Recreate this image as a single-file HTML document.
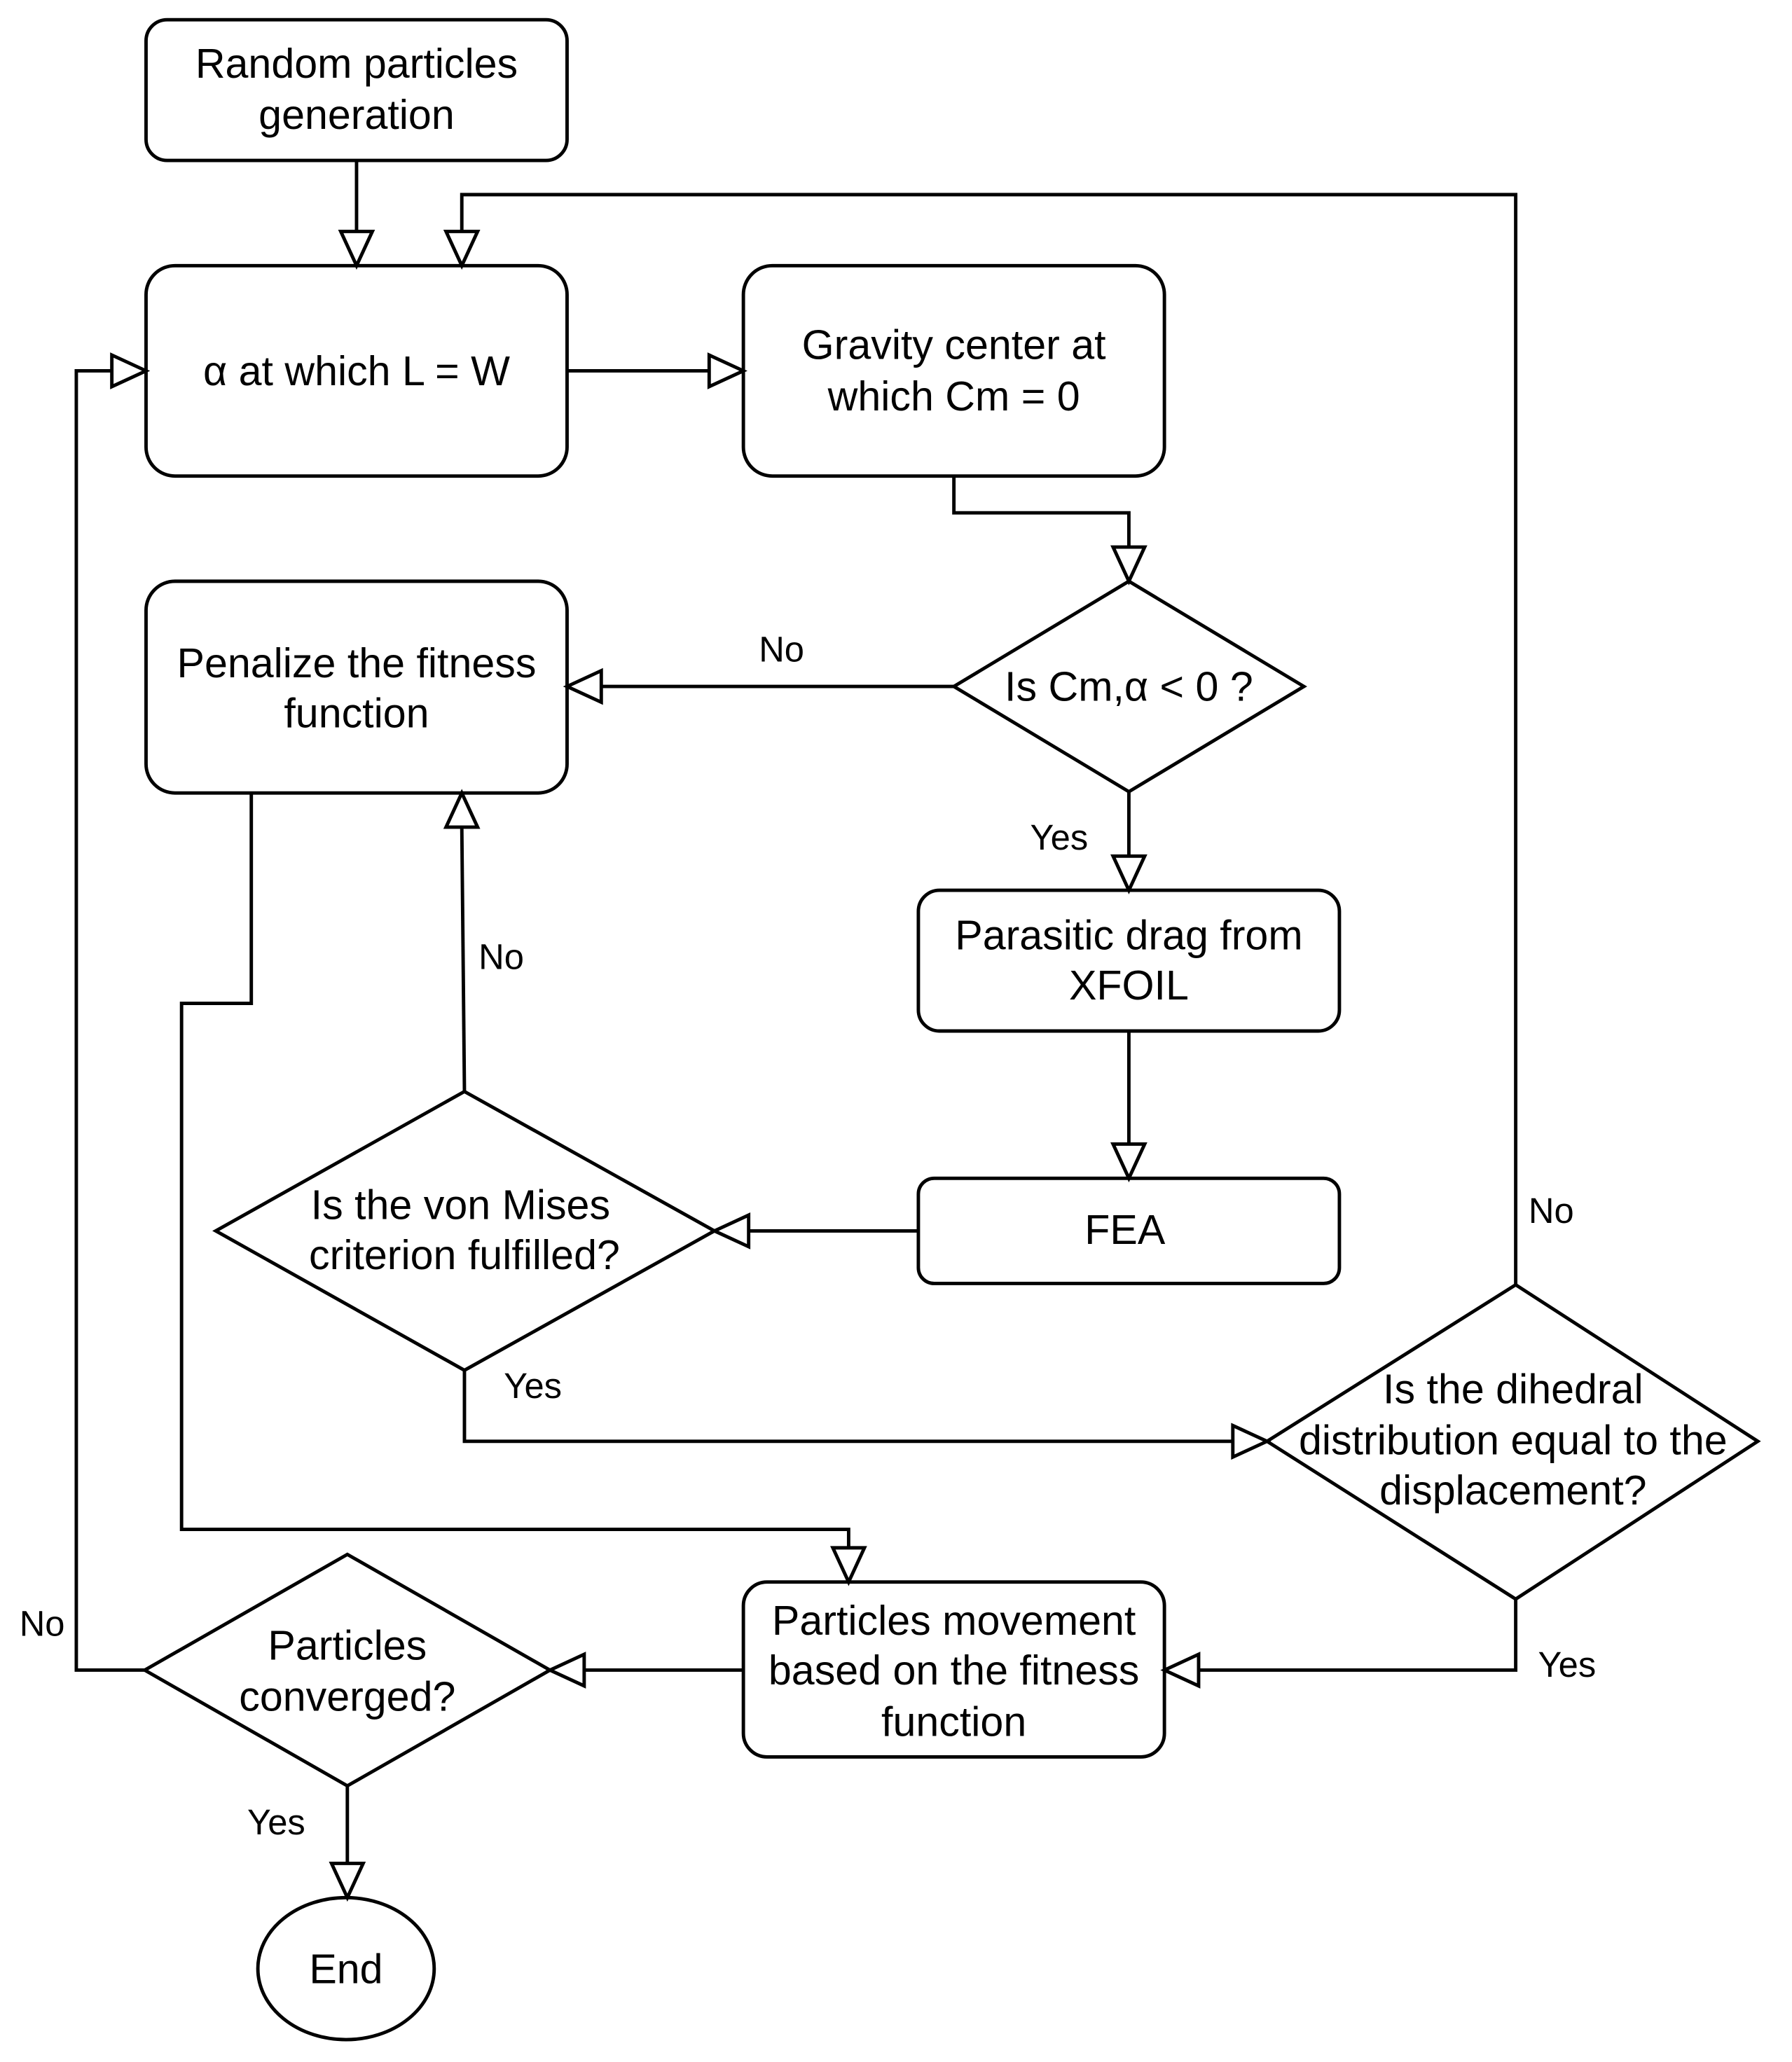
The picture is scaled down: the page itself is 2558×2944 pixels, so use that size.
<!DOCTYPE html>
<html><head><meta charset="utf-8"><style>
html,body{margin:0;padding:0;background:#fff}
svg{display:block}
text{font-family:"Liberation Sans",Arial,sans-serif;fill:#000}
</style></head><body>
<svg width="2558" height="2944" viewBox="0 0 1362 1568" preserveAspectRatio="none" xmlns="http://www.w3.org/2000/svg">
<g fill="none" stroke="#000" stroke-width="2.6" stroke-linejoin="miter">
<rect x="111" y="15" width="320" height="107" rx="16"/>
<rect x="111" y="202" width="320" height="160" rx="22"/>
<rect x="565" y="202" width="320" height="160" rx="22"/>
<rect x="111" y="442" width="320" height="161" rx="22"/>
<rect x="698" y="677" width="320" height="107" rx="16"/>
<rect x="698" y="896" width="320" height="80" rx="12"/>
<rect x="565" y="1203" width="320" height="133" rx="18"/>
<polygon points="725,522 858,442 991,522 858,602"/>
<polygon points="164,936 353,830 543,936 353,1042"/>
<polygon points="963,1096 1152,977 1336,1096 1152,1216"/>
<polygon points="110,1270 264,1182 418,1270 264,1358"/>
<ellipse cx="263" cy="1497" rx="67" ry="54"/>
<polyline points="271,122 271,176"/>
<polyline points="1152,977 1152,148 351,148 351,176"/>
<polyline points="431,282 539,282"/>
<polyline points="725,362 725,390 858,390 858,416"/>
<polyline points="725,522 457,522"/>
<polyline points="858,602 858,651"/>
<polyline points="858,784 858,870"/>
<polyline points="698,936 569,936"/>
<polyline points="353,830 351,629"/>
<polyline points="353,1042 353,1096 937,1096"/>
<polyline points="191,603 191,763 138,763 138,1163 645,1163 645,1177"/>
<polyline points="1152,1216 1152,1270 911,1270"/>
<polyline points="565,1270 444,1270"/>
<polyline points="110,1270 58,1270 58,282 85,282"/>
<polyline points="264,1358 264,1417"/>
<g fill="#fff">
<polygon points="259,176 283,176 271,202"/>
<polygon points="339,176 363,176 351,202"/>
<polygon points="539,270 539,294 565,282"/>
<polygon points="846,416 870,416 858,442"/>
<polygon points="457,510 457,534 431,522"/>
<polygon points="846,651 870,651 858,677"/>
<polygon points="846,870 870,870 858,896"/>
<polygon points="569,924 569,948 543,936"/>
<polygon points="339,629 363,629 351,603"/>
<polygon points="937,1084 937,1108 963,1096"/>
<polygon points="633,1177 657,1177 645,1203"/>
<polygon points="911,1258 911,1282 885,1270"/>
<polygon points="444,1258 444,1282 418,1270"/>
<polygon points="85,270 85,294 111,282"/>
<polygon points="252,1417 276,1417 264,1443"/>
</g>
</g>
<g font-size="31.5" text-anchor="middle">
<text x="271" y="59">Random particles</text>
<text x="271" y="98">generation</text>
<text x="271" y="293">α at which L = W</text>
<text x="725" y="273">Gravity center at</text>
<text x="725" y="312">which Cm = 0</text>
<text x="271" y="515">Penalize the fitness</text>
<text x="271" y="553">function</text>
<text x="858" y="533">Is Cm,α &lt; 0 ?</text>
<text x="858" y="722">Parasitic drag from</text>
<text x="858" y="760">XFOIL</text>
<text x="855" y="946">FEA</text>
<text x="350" y="927">Is the von Mises</text>
<text x="353" y="965">criterion fulfilled?</text>
<text x="1150" y="1067">Is the dihedral</text>
<text x="1150" y="1106">distribution equal to the</text>
<text x="1150" y="1144">displacement?</text>
<text x="725" y="1243">Particles movement</text>
<text x="725" y="1281">based on the fitness</text>
<text x="725" y="1320">function</text>
<text x="264" y="1262">Particles</text>
<text x="264" y="1301">converged?</text>
<text x="263" y="1508">End</text>
</g>
<g font-size="27" text-anchor="middle">
<text x="594" y="503">No</text>
<text x="805" y="646">Yes</text>
<text x="381" y="737">No</text>
<text x="405" y="1063">Yes</text>
<text x="1179" y="930">No</text>
<text x="1191" y="1275">Yes</text>
<text x="32" y="1244">No</text>
<text x="210" y="1395">Yes</text>
</g>
</svg>
</body></html>
